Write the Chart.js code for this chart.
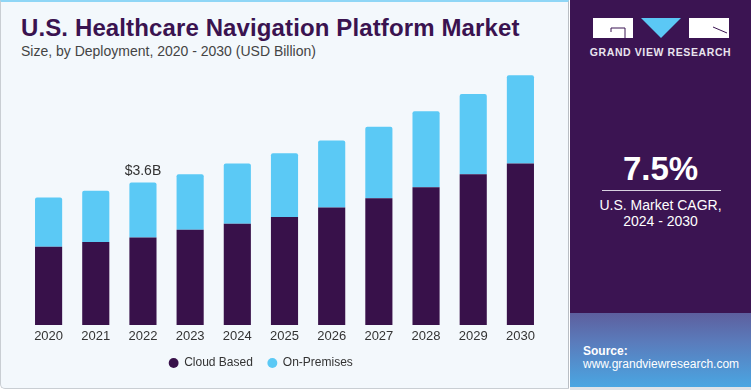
<!DOCTYPE html>
<html>
<head>
<meta charset="utf-8">
<script src="https://cdn.jsdelivr.net/npm/chart.js@4"></script>
<style>
  html, body { margin: 0; padding: 0; }
  body { width: 751px; height: 390px; position: relative; overflow: hidden; background: #ffffff; font-family: "Liberation Sans", Arial, sans-serif; }
  #left { position: absolute; left: 0; top: 0; width: 567px; height: 386px; background: #f3f8fc; border-left: 1px solid #c9ced3; border-right: 1px solid #b9bec4; border-bottom: 1px solid #c9ced3; border-top: 2px solid #8fd6f6; border-bottom-left-radius: 5px; overflow: hidden; }
  #title { position: absolute; left: 20px; top: 12px; font-size: 24px; font-weight: bold; color: #3a1350; white-space: nowrap; letter-spacing: 0.12px; }
  #subtitle { position: absolute; left: 20px; top: 41px; font-size: 14px; color: #444; white-space: nowrap; }
  #wrap { position: absolute; left: -22px; top: 38px; width: 591px; height: 341px; }
  #right { position: absolute; left: 570px; top: 0; width: 181px; height: 390px; background: #3b1452; }
  #logo { position: absolute; left: 23px; top: 18px; width: 136px; height: 20px; }
  #gvr { position: absolute; left: 0; width: 181px; top: 46px; text-align: center; font-size: 10.5px; font-weight: bold; color: #e9e4ee; letter-spacing: 0.6px; }
  #cagr { position: absolute; left: 0; width: 181px; top: 150px; text-align: center; font-size: 33px; font-weight: bold; color: #ffffff; }
  #rule { position: absolute; left: 32px; width: 119px; top: 190px; height: 1px; background: #d8d0e0; }
  #cagrtxt { position: absolute; left: 0; width: 181px; top: 197px; text-align: center; font-size: 14px; line-height: 16px; color: #ffffff; }
  #source { position: absolute; left: 0; top: 313px; width: 181px; height: 74px; background: linear-gradient(to bottom, #5d5f9e 0%, #5a7cbc 40%, #4aa6e2 100%); }
  #source .s1 { position: absolute; left: 13px; top: 31px; font-size: 12px; font-weight: bold; color: #fff; }
  #source .s2 { position: absolute; left: 13px; top: 44px; font-size: 12px; color: #fff; }
  #strip { position: absolute; left: 0; top: 387px; width: 181px; height: 3px; background: #dfe3e8; }
</style>
</head>
<body>
<div id="left">
  <div id="title">U.S. Healthcare Navigation Platform Market</div>
  <div id="subtitle">Size, by Deployment, 2020 - 2030 (USD Billion)</div>
</div>
<div id="wrap"><canvas id="marketChart"></canvas></div>
<div id="right">
  <svg id="logo" viewBox="0 0 136 20">
    <rect x="0" y="0" width="40" height="20" fill="#ffffff"/>
    <polyline points="32,20 32,10 18,10 18,14" fill="none" stroke="#3b1452" stroke-width="1"/>
    <polygon points="48,0 88,0 68,20" fill="#5bc8f5"/>
    <rect x="96" y="0" width="40" height="20" fill="#ffffff"/>
    <polyline points="120,9 134,15" fill="none" stroke="#3b1452" stroke-width="1"/>
  </svg>
  <div id="gvr">GRAND VIEW RESEARCH</div>
  <div id="cagr">7.5%</div>
  <div id="rule"></div>
  <div id="cagrtxt">U.S. Market CAGR,<br>2024 - 2030</div>
  <div id="source">
    <div class="s1">Source:</div>
    <div class="s2">www.grandviewresearch.com</div>
  </div>
  <div id="strip"></div>
</div>
<script>
//! Data
const years = ["2020", "2021", "2022", "2023", "2024", "2025", "2026", "2027", "2028", "2029", "2030"];
const cloudBased = [1.98, 2.10, 2.21, 2.41, 2.56, 2.73, 2.97, 3.20, 3.48, 3.81, 4.08];
const onPremises = [1.24, 1.29, 1.39, 1.40, 1.52, 1.61, 1.69, 1.81, 1.92, 2.03, 2.23];
const labelYear = "2022";
const labelText = "$3.6B";

const cloudColor = "#38114a";
const premColor = "#5bc9f5";

//! draws the value label above one stacked bar
const totalLabel = {
    id: "totalLabel",
    afterDatasetsDraw(chart) {
        const idx = years.indexOf(labelYear);
        const bar = chart.getDatasetMeta(1).data[idx];
        const ctx = chart.ctx;
        ctx.save();
        ctx.font = "14px 'Liberation Sans', Arial, sans-serif";
        ctx.fillStyle = "#333333";
        ctx.textAlign = "center";
        ctx.textBaseline = "middle";
        ctx.fillText(labelText, bar.x, bar.y - 11);
        ctx.restore();
    }
};

const ctx = document.getElementById("marketChart").getContext("2d");
new Chart(ctx, {
    type: "bar",
    data: {
        labels: years,
        datasets: [
            {
                label: "Cloud Based",
                data: cloudBased,
                backgroundColor: cloudColor,
                borderWidth: 0
            },
            {
                label: "On-Premises",
                data: onPremises,
                backgroundColor: premColor,
                borderWidth: 0,
                borderRadius: { topLeft: 2, topRight: 2 },
                borderSkipped: false
            }
        ]
    },
    options: {
        responsive: true,
        maintainAspectRatio: false,
        animation: false,
        datasets: {
            bar: { categoryPercentage: 1, barPercentage: 0.575 }
        },
        layout: { padding: { left: 0, right: 25, top: 10, bottom: 0 } },
        scales: {
            x: {
                stacked: true,
                grid: { display: false, drawTicks: false },
                border: { display: false },
                ticks: {
                    color: "#333333",
                    padding: 5,
                    font: { family: "'Liberation Sans', Arial, sans-serif", size: 13, lineHeight: 1 }
                },
                afterFit(scale) { scale.height = 17; }
            },
            y: {
                stacked: true,
                min: 0,
                max: 7,
                grid: { display: false, drawTicks: false },
                border: { display: false },
                ticks: { display: false },
                afterFit(scale) { scale.width = 47; }
            }
        },
        plugins: {
            legend: {
                position: "bottom",
                labels: {
                    usePointStyle: true,
                    pointStyle: "circle",
                    boxWidth: 9,
                    boxHeight: 7,
                    padding: 15,
                    color: "#333333",
                    font: { family: "'Liberation Sans', Arial, sans-serif", size: 12 }
                }
            },
            tooltip: { enabled: false }
        }
    },
    plugins: [totalLabel]
});
</script>
</body>
</html>
